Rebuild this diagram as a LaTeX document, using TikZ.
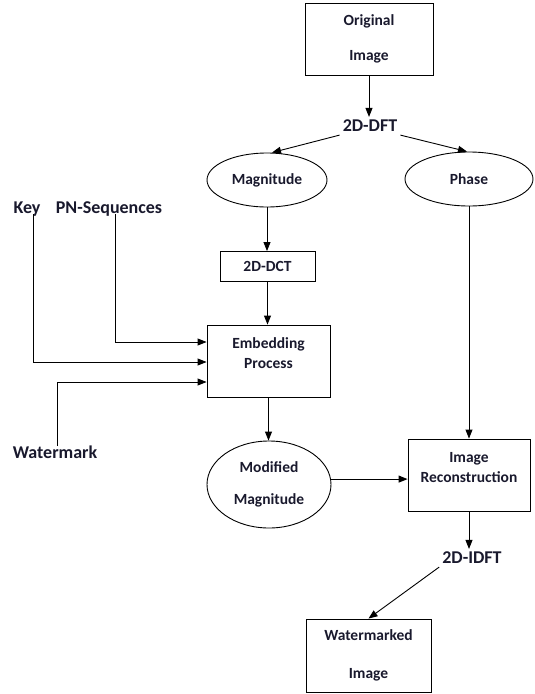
\documentclass[tikz,border=0pt]{standalone}
\usepackage{fontspec}
\setmainfont{Carlito}
\usetikzlibrary{arrows.meta,shapes.geometric,positioning}
\definecolor{txt}{RGB}{25,25,45}
\tikzset{
  boxtxt/.style={font=\bfseries\fontsize{15.5}{18.6}\selectfont, text=txt, align=center},
  lbltxt/.style={font=\bfseries\fontsize{18}{21}\selectfont, text=txt},
  procbox/.style={boxtxt, draw, line width=0.9pt, rectangle, inner sep=0pt},
  ellnode/.style={boxtxt, draw, line width=0.9pt, ellipse, inner sep=0pt},
  arr/.style={draw, line width=0.9pt, -{Triangle[length=9pt,width=7pt]}},
  ln/.style={draw, line width=0.9pt}
}
\begin{document}
\begin{tikzpicture}[x=1pt,y=-1pt]
\useasboundingbox (0,0) rectangle (535,694);
% nodes
\node[procbox, minimum width=128pt, minimum height=72pt] (orig) at (369,39) {Original\\[16pt]Image};
\node[lbltxt, inner sep=3pt] (dft) at (370,126) {2D-DFT};
\node[ellnode, minimum width=120pt, minimum height=54pt] (mag) at (267,180) {Magnitude};
\node[ellnode, minimum width=128pt, minimum height=54pt] (phase) at (469,179) {Phase};
\node[procbox, minimum width=95pt, minimum height=30pt] (dct) at (267.5,266.5) {2D-DCT};
\node[procbox, minimum width=123pt, minimum height=72pt, text depth=16pt] (emb) at (268.5,361) {Embedding\\[1.4pt]Process};
\node[ellnode, minimum width=124pt, minimum height=87pt] (modmag) at (269,484.5) {Modified\\[13pt]Magnitude};
\node[procbox, minimum width=122pt, minimum height=72pt, text depth=15pt] (recon) at (469,475) {Image\\[1.4pt]Reconstruction};
\node[lbltxt, inner sep=3pt] (idft) at (472,558) {2D-IDFT};
\node[procbox, minimum width=125pt, minimum height=73pt] (wm) at (368.5,655.5) {Watermarked\\[19pt]Image};
\node[lbltxt, anchor=base, inner sep=3pt] (key) at (27,213) {Key};
\node[lbltxt, anchor=base, inner sep=3pt] (pn) at (109,213) {PN-Sequences};
\node[lbltxt, anchor=base, inner sep=3pt] (wmk) at (55,458) {Watermark};
% connectors
\draw[arr] (orig.south) -- (dft.north -| orig.south);
\draw[arr] (dft.south west) -- ([xshift=5pt]mag.north);
\draw[arr] (dft.south east) -- ([xshift=-2pt]phase.north);
\draw[arr] (mag.south) -- (dct.north -| mag.south);
\draw[arr] (dct.south) -- (emb.north -| dct.south);
\draw[arr] ([xshift=6pt,yshift=5pt]key.south) |- ([yshift=-1pt]emb.west);
\draw[arr] ([xshift=6pt,yshift=5pt]pn.south) |- ([yshift=19pt]emb.west);
\draw[arr] ([xshift=2pt,yshift=-4pt]wmk.north) |- ([yshift=-21pt]emb.west);
\draw[arr] (emb.south) -- (modmag.north -| emb.south);
\draw[arr] (modmag.5) -- (recon.west |- modmag.5);
\draw[arr] (phase.south) -- (recon.north -| phase.south);
\draw[arr] (recon.south) -- (recon.south |- idft.north);
\draw[arr] (idft.south west) -- (wm.north);
\end{tikzpicture}
\end{document}
